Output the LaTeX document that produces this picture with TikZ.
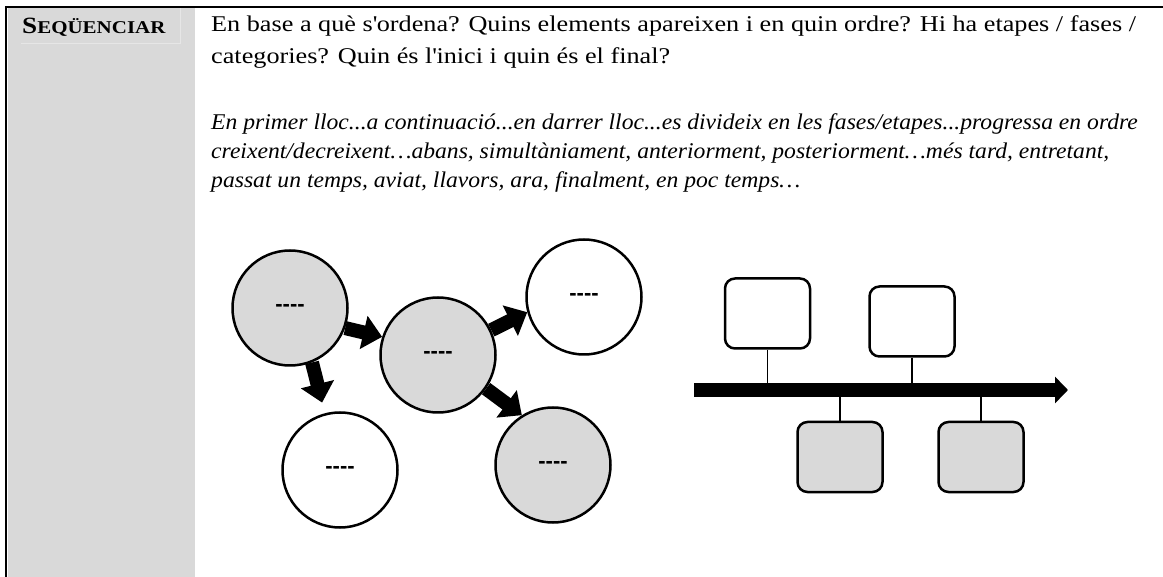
\documentclass[tikz,border=0pt]{standalone}
\usepackage{fontspec}
\setmainfont{Liberation Serif}[FakeStretch=1.165]
\newfontfamily\wordfont{Liberation Serif}[FakeStretch=1.05]
\setsansfont{Liberation Sans}
\usetikzlibrary{arrows.meta,backgrounds}
\definecolor{cellgray}{RGB}{217,217,217}
\definecolor{cellline}{RGB}{230,230,230}

\begin{document}
\begin{tikzpicture}[x=1pt,y=-1pt,
  bubble/.style={circle,draw,line width=2.5pt,minimum size=115pt,inner sep=0pt,
    font=\sffamily\bfseries\fontsize{22}{22}\selectfont},
  greybubble/.style={bubble,fill=cellgray},
  whitebubble/.style={bubble,fill=white},
  flow/.style={line width=14pt,-{Triangle[length=19pt,width=33pt]}},
  slot/.style={draw,rounded corners=10pt,line width=2.5pt,minimum width=85pt,
    minimum height=70pt,inner sep=0pt},
  tick/.style={line width=1.6pt}
]
\useasboundingbox (0,0) rectangle (1163,577);

% left column of the table
\node[anchor=base west,inner sep=0pt,font=\bfseries] (title) at (22,34)
  {\fontsize{23.3}{23.3}\selectfont S\fontsize{18}{18}\selectfont EQÜENCIAR};

\node[anchor=base west,align=left,inner sep=0pt,
  font=\fontsize{22.5}{31.5}\selectfont] (ask) at (211,63.5)
  {En base a què s\textquotesingle ordena? Quins elements apareixen i en quin ordre? Hi ha etapes / fases /\\
   categories? Quin és l\textquotesingle inici i quin és el final?};

\node[anchor=base west,align=left,inner sep=0pt,
  font=\wordfont\itshape\fontsize{22.5}{29.2}\selectfont] (words) at (211,188)
  {En primer lloc...a continuació...en darrer lloc...es divideix en les fases/etapes...progressa en ordre\\
   creixent/decreixent…abans, simultàniament, anteriorment, posteriorment…més tard, entretant,\\
   passat un temps, aviat, llavors, ara, finalment, en poc temps…};

% bubbles
\node[greybubble]  (first) at (290,308) {-{}-{}-{}-};
\node[whitebubble] (low)   at (340,470) {-{}-{}-{}-};
\node[greybubble]  (mid)   at (438,355) {-{}-{}-{}-};
\node[whitebubble] (top)   at (584,297) {-{}-{}-{}-};
\node[greybubble]  (last)  at (553,465) {-{}-{}-{}-};

% timeline
\node[slot,fill=white]    (a) at (767.5,313.5) {};
\node[slot,fill=white]    (b) at (912,321.5) {};
\node[slot,fill=cellgray] (c) at (840,457) {};
\node[slot,fill=cellgray] (d) at (981,457) {};
\coordinate (start)  at (694,390);
\coordinate (finish) at (1068,390);

\begin{scope}[on background layer]
\fill[cellgray] (8,8) rectangle (195,577);
\draw[cellline,line width=0.8pt] (21,43) -- (180,43) -- (180,8);
\draw[flow] (first.-20) -- (mid.162);
\draw[flow,shorten >=11pt] (first.-68) -- (low.105);
\draw[flow] (mid.25) -- (top.195);
\draw[flow] (mid.-35) -- (last.122);
\draw[tick] (a.south) -- (a.south |- start);
\draw[tick] (b.south) -- (b.south |- start);
\draw[tick] (c.north) -- (c.north |- start);
\draw[tick] (d.north) -- (d.north |- start);
\end{scope}

\draw[line width=14pt,-{Triangle[length=13pt,width=26pt]}] (start) -- (finish);
\draw[line width=2.2pt] (6,577) -- (6,7) -- (1163,7);
\end{tikzpicture}
\end{document}
